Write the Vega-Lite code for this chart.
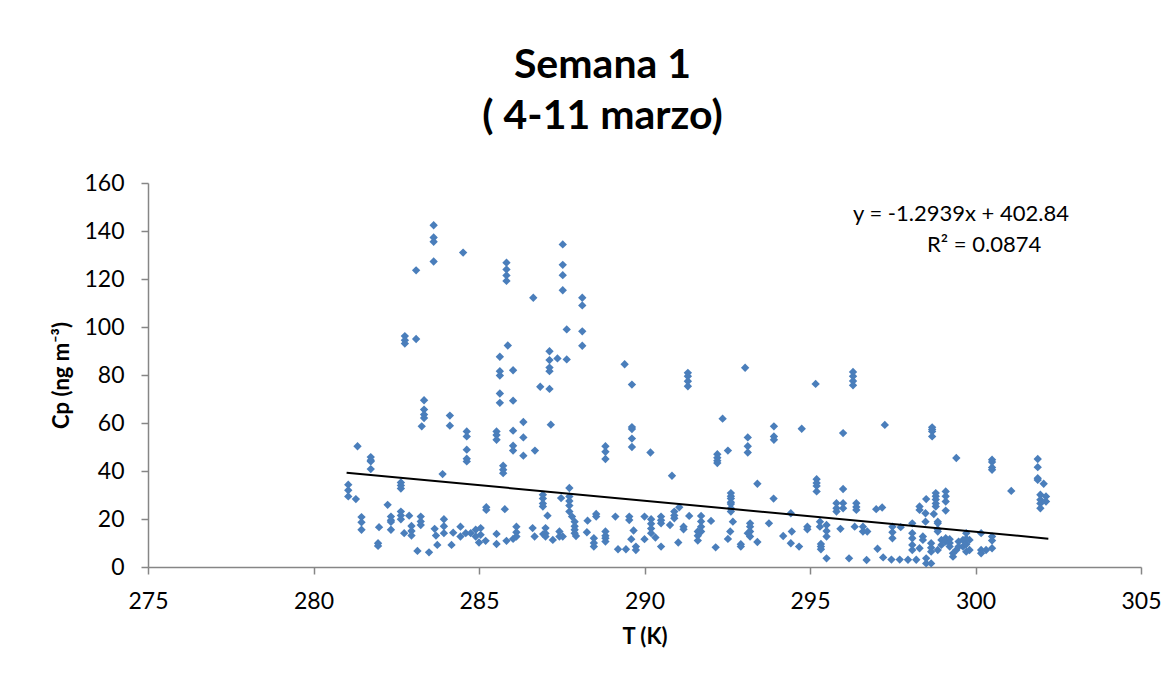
{
  "$schema": "https://vega.github.io/schema/vega-lite/v6.json",
  "width": 993,
  "height": 384,
  "autosize": {"type": "none"},
  "padding": {"left": 148, "top": 183, "right": 35, "bottom": 115},
  "background": "white",
  "config": {"view": {"stroke": null}, "font": "Lato"},
  "title": {
    "text": ["Semana 1", "( 4-11 marzo)"],
    "font": "Lato",
    "fontSize": 41,
    "fontWeight": "bold",
    "color": "black",
    "lineHeight": 51,
    "anchor": "middle",
    "frame": "group",
    "dx": -42,
    "offset": 34
  },
  "datasets": {
    "points": [
      {"T":283.63,"Cp":142.4},{"T":283.63,"Cp":137.3},{"T":283.63,"Cp":135.5},{"T":284.52,"Cp":131},{"T":283.63,"Cp":127.3},{"T":283.1,"Cp":123.6},{"T":282.76,"Cp":96.2},{"T":282.76,"Cp":94.5},{"T":282.76,"Cp":93.1},{"T":283.1,"Cp":95},{"T":285.63,"Cp":87.6},{"T":285.63,"Cp":81.6},{"T":285.63,"Cp":79.8},
      {"T":285.63,"Cp":72.3},{"T":285.63,"Cp":68.4},{"T":283.34,"Cp":69.5},{"T":283.34,"Cp":65.6},{"T":283.34,"Cp":63.5},{"T":283.34,"Cp":62.1},{"T":283.27,"Cp":58.6},{"T":284.12,"Cp":63.1},{"T":284.12,"Cp":58.9},{"T":284.63,"Cp":56.5},{"T":284.63,"Cp":54.4},{"T":284.63,"Cp":48.9},{"T":284.63,"Cp":45.1},{"T":284.63,"Cp":44},{"T":285.53,"Cp":56.5},{"T":285.53,"Cp":55},{"T":285.53,"Cp":53},{"T":281.33,"Cp":50.3},{"T":281.73,"Cp":45.8},{"T":281.73,"Cp":44.5},{"T":281.73,"Cp":44},{"T":281.73,"Cp":40.8},{"T":281.05,"Cp":34.3},{"T":281.05,"Cp":32},{"T":281.05,"Cp":29.4},{"T":281.28,"Cp":28.3},{"T":282.64,"Cp":35.2},{"T":282.64,"Cp":34},{"T":282.64,"Cp":32.7},{"T":283.9,"Cp":38.7},{"T":281.45,"Cp":20.8},{"T":281.45,"Cp":18.6},{"T":281.45,"Cp":15.5},{"T":281.98,"Cp":16.6},{"T":281.95,"Cp":9.9},{"T":281.95,"Cp":8.8},{"T":282.24,"Cp":25.9},{"T":282.34,"Cp":21},{"T":282.34,"Cp":19.5},{"T":282.34,"Cp":18.8},{"T":282.34,"Cp":15.5},{"T":282.64,"Cp":23.1},{"T":282.64,"Cp":21.5},{"T":282.64,"Cp":19.9},{"T":282.89,"Cp":21.4},{"T":282.74,"Cp":14.1},{"T":282.96,"Cp":17.1},{"T":282.96,"Cp":15},{"T":282.96,"Cp":13.1},{"T":283.24,"Cp":21},{"T":283.24,"Cp":19},{"T":283.24,"Cp":17.5},{"T":283.14,"Cp":6.7},{"T":283.49,"Cp":6.1},{"T":283.66,"Cp":15.9},{"T":283.7,"Cp":13.1},{"T":283.74,"Cp":9.2},{"T":283.94,"Cp":19.9},{"T":283.94,"Cp":17},{"T":283.94,"Cp":14.1},{"T":284.17,"Cp":9.2},{"T":284.22,"Cp":14.3},{"T":284.44,"Cp":16.8},{"T":284.44,"Cp":12.7},{"T":284.6,"Cp":14.1},{"T":284.75,"Cp":14.1},{"T":284.9,"Cp":15.5},{"T":284.9,"Cp":12.7},{"T":285.05,"Cp":16.2},{"T":285.05,"Cp":13.4},{"T":285,"Cp":10.2},{"T":285.22,"Cp":24.9},{"T":285.22,"Cp":23.8},{"T":285.2,"Cp":10.9},{"T":285.53,"Cp":13.8},{"T":285.53,"Cp":9.6},
      {"T":285.83,"Cp":126.8},{"T":285.83,"Cp":124},{"T":285.83,"Cp":121.5},{"T":285.83,"Cp":119.2},{"T":287.53,"Cp":134.4},{"T":287.53,"Cp":125.9},{"T":287.53,"Cp":121.6},{"T":287.53,"Cp":115.3},{"T":286.64,"Cp":112.2},{"T":288.12,"Cp":112.2},{"T":288.12,"Cp":109},{"T":287.65,"Cp":99},{"T":288.12,"Cp":98.2},{"T":288.12,"Cp":92.2},{"T":285.87,"Cp":92.3},{"T":286.03,"Cp":82},{"T":287.13,"Cp":89.9},{"T":287.13,"Cp":86.2},{"T":287.13,"Cp":83.1},{"T":287.13,"Cp":81.6},{"T":287.37,"Cp":86.9},{"T":287.65,"Cp":86.5},{"T":289.4,"Cp":84.5},
      {"T":286.85,"Cp":75.1},{"T":287.13,"Cp":74.2},{"T":286.03,"Cp":69.3},{"T":289.62,"Cp":76},{"T":286.34,"Cp":60.4},{"T":286.03,"Cp":56.8},{"T":286.34,"Cp":54},{"T":286.03,"Cp":50.5},{"T":286.03,"Cp":48.5},{"T":286.34,"Cp":46.4},{"T":286.69,"Cp":48.5},{"T":287.17,"Cp":59.3},{"T":285.73,"Cp":42.2},{"T":285.73,"Cp":40.5},{"T":285.73,"Cp":39.1},{"T":288.82,"Cp":50.3},{"T":288.82,"Cp":48},{"T":288.82,"Cp":45},{"T":289.62,"Cp":58.3},{"T":289.62,"Cp":57.5},{"T":289.62,"Cp":53.5},{"T":289.62,"Cp":50},{"T":290.18,"Cp":47.7},{"T":290.83,"Cp":38},{"T":287.73,"Cp":32.9},{"T":286.93,"Cp":30.1},{"T":286.93,"Cp":28.5},{"T":286.93,"Cp":26.5},{"T":286.93,"Cp":25.2},{"T":287.48,"Cp":28.7},{"T":287.73,"Cp":29.4},{"T":287.73,"Cp":27.5},{"T":287.73,"Cp":25.6},{"T":287.73,"Cp":23.1},{"T":287.81,"Cp":21},{"T":285.78,"Cp":24.1},{"T":287.07,"Cp":21.4},{"T":287.89,"Cp":18.9},{"T":287.89,"Cp":17},{"T":287.89,"Cp":15.5},{"T":287.89,"Cp":14.1},{"T":287.93,"Cp":12.9},{"T":288.54,"Cp":22.1},{"T":288.54,"Cp":21},{"T":288.28,"Cp":19.3},{"T":288.26,"Cp":14.5},{"T":288.47,"Cp":12},{"T":288.47,"Cp":10},{"T":288.47,"Cp":8.5},{"T":288.82,"Cp":14.8},{"T":288.82,"Cp":13},{"T":288.82,"Cp":12},{"T":288.82,"Cp":10.6},{"T":289.12,"Cp":21},{"T":289.2,"Cp":7.4},{"T":289.44,"Cp":7.4},{"T":289.54,"Cp":21},{"T":289.54,"Cp":19.6},{"T":289.67,"Cp":15.2},{"T":289.6,"Cp":11.6},{"T":289.74,"Cp":8.5},{"T":289.74,"Cp":7.1},{"T":290,"Cp":21},{"T":290.2,"Cp":19.9},{"T":290.2,"Cp":18},{"T":290.2,"Cp":16},{"T":290.2,"Cp":14.1},{"T":290,"Cp":11.6},{"T":290.33,"Cp":12.3},{"T":290.5,"Cp":21},{"T":290.5,"Cp":19.5},{"T":290.5,"Cp":18.2},{"T":290.5,"Cp":8.5},{"T":290.77,"Cp":17.5},{"T":290.9,"Cp":23.1},{"T":290.9,"Cp":21.5},{"T":290.9,"Cp":20.3},{"T":291.05,"Cp":24.9},{"T":291.02,"Cp":10.2},{"T":285.83,"Cp":10.9},{"T":286.03,"Cp":11.7},{"T":286.13,"Cp":16.8},{"T":286.13,"Cp":14.5},{"T":286.13,"Cp":12.7},{"T":286.62,"Cp":16.2},{"T":286.68,"Cp":12.7},{"T":286.94,"Cp":13.7},{"T":287.01,"Cp":16.2},{"T":287.01,"Cp":14},{"T":287.01,"Cp":12.7},{"T":287.23,"Cp":11.3},{"T":287.43,"Cp":14.8},{"T":287.43,"Cp":12.7},{"T":287.53,"Cp":12.7},
      {"T":291.31,"Cp":80.9},{"T":291.31,"Cp":79.5},{"T":291.31,"Cp":77.4},{"T":291.31,"Cp":75.3},{"T":293.04,"Cp":83},{"T":295.17,"Cp":76.3},{"T":296.3,"Cp":81.3},{"T":296.3,"Cp":79.5},{"T":296.3,"Cp":77.5},{"T":296.3,"Cp":75.7},{"T":292.36,"Cp":61.8},{"T":292.52,"Cp":48.5},{"T":292.2,"Cp":47},{"T":292.2,"Cp":45.5},{"T":292.2,"Cp":44.3},{"T":292.2,"Cp":43.3},{"T":293.12,"Cp":54},{"T":293.12,"Cp":50.3},{"T":293.12,"Cp":47.7},{"T":293.91,"Cp":58.6},{"T":293.91,"Cp":54.4},{"T":293.91,"Cp":53},{"T":294.75,"Cp":57.6},{"T":296,"Cp":55.8},{"T":293.41,"Cp":34.7},{"T":293.9,"Cp":28.5},{"T":295.2,"Cp":36.6},{"T":295.2,"Cp":35},{"T":295.2,"Cp":33.8},{"T":295.2,"Cp":31.5},{"T":296,"Cp":32.5},{"T":292.61,"Cp":30.8},{"T":292.61,"Cp":29.5},{"T":292.61,"Cp":28.5},{"T":292.61,"Cp":27},{"T":292.61,"Cp":26.2},{"T":292.61,"Cp":24.5},{"T":292.61,"Cp":23.1},{"T":291.35,"Cp":21.3},{"T":291.18,"Cp":16.8},{"T":291.18,"Cp":15.7},{"T":291.71,"Cp":21.3},{"T":291.71,"Cp":19},{"T":291.71,"Cp":16.8},{"T":291.71,"Cp":14.8},{"T":291.61,"Cp":14.8},{"T":291.61,"Cp":13},{"T":291.61,"Cp":11},{"T":292.01,"Cp":19.2},{"T":292.15,"Cp":8.2},{"T":292.67,"Cp":18.9},{"T":292.59,"Cp":14.8},{"T":292.52,"Cp":11.7},{"T":292.91,"Cp":9.5},{"T":292.91,"Cp":8.5},{"T":293.19,"Cp":18.2},{"T":293.19,"Cp":16.8},{"T":293.19,"Cp":14.8},{"T":293.19,"Cp":12.7},{"T":293.12,"Cp":14.1},{"T":293.41,"Cp":10.4},{"T":293.76,"Cp":18.2},{"T":294.19,"Cp":12.9},{"T":294.42,"Cp":22.4},{"T":294.45,"Cp":14.8},{"T":294.42,"Cp":9.9},{"T":294.67,"Cp":8.5},{"T":294.92,"Cp":16.8},{"T":294.92,"Cp":15.7},{"T":295.3,"Cp":18.9},{"T":295.3,"Cp":16.8},{"T":295.5,"Cp":17.5},{"T":295.5,"Cp":15},{"T":295.5,"Cp":12.7},{"T":295.33,"Cp":9.6},{"T":295.33,"Cp":8.5},{"T":295.33,"Cp":7.4},{"T":295.5,"Cp":3.6},{"T":295.8,"Cp":26.6},{"T":295.8,"Cp":24.5},{"T":295.8,"Cp":23.1},{"T":296,"Cp":26.6},{"T":296,"Cp":24.5},{"T":295.92,"Cp":15.9},{"T":296.18,"Cp":3.6},{"T":296.4,"Cp":26.6},{"T":296.4,"Cp":25},{"T":296.4,"Cp":23.8},{"T":296.35,"Cp":16.8},
      {"T":297.26,"Cp":59.2},{"T":298.69,"Cp":58.2},{"T":298.69,"Cp":57.3},{"T":298.69,"Cp":56.5},{"T":298.69,"Cp":54.4},{"T":299.42,"Cp":45.4},{"T":300.5,"Cp":44.7},{"T":300.5,"Cp":43.7},{"T":300.5,"Cp":41.5},{"T":300.5,"Cp":40.5},{"T":301.88,"Cp":45},{"T":301.88,"Cp":41.6},{"T":301.88,"Cp":37},{"T":301.88,"Cp":36.3},{"T":302.06,"Cp":34.7},{"T":301.08,"Cp":31.7},{"T":301.96,"Cp":30.1},{"T":301.96,"Cp":28},{"T":301.96,"Cp":26.5},{"T":301.96,"Cp":24.5},{"T":302.13,"Cp":29.4},{"T":302.13,"Cp":27.3},{"T":297,"Cp":24.1},{"T":297.18,"Cp":24.8},{"T":296.6,"Cp":16.8},{"T":296.6,"Cp":14.8},{"T":296.73,"Cp":14.8},{"T":296.71,"Cp":2.9},{"T":297.04,"Cp":7.6},{"T":297.21,"Cp":4},{"T":297.49,"Cp":16.8},{"T":297.49,"Cp":14.5},{"T":297.49,"Cp":12},{"T":297.74,"Cp":16.6},{"T":297.46,"Cp":3.1},{"T":297.71,"Cp":3.1},{"T":297.96,"Cp":3},{"T":298.21,"Cp":3},{"T":298.09,"Cp":18.2},{"T":298.09,"Cp":14.1},{"T":298.09,"Cp":12},{"T":298.09,"Cp":9.2},{"T":298.09,"Cp":7.1},{"T":298.31,"Cp":25.2},{"T":298.31,"Cp":23.8},{"T":298.51,"Cp":28.3},{"T":298.49,"Cp":22.4},{"T":298.49,"Cp":18.9},{"T":298.41,"Cp":12.7},{"T":298.41,"Cp":11.3},{"T":298.31,"Cp":7.8},{"T":298.51,"Cp":3.6},{"T":298.51,"Cp":1.5},{"T":298.66,"Cp":1.5},{"T":298.8,"Cp":30.8},{"T":298.8,"Cp":29.5},{"T":298.8,"Cp":28.1},{"T":298.8,"Cp":26.5},{"T":298.8,"Cp":25.2},{"T":298.74,"Cp":22.1},{"T":298.86,"Cp":18.9},{"T":298.86,"Cp":18.2},{"T":298.86,"Cp":15.7},{"T":298.86,"Cp":14.8},{"T":298.66,"Cp":9.9},{"T":298.66,"Cp":8},{"T":298.66,"Cp":6.4},{"T":298.86,"Cp":7.1},{"T":298.97,"Cp":11.3},{"T":298.97,"Cp":9.2},{"T":299.1,"Cp":31.5},{"T":299.1,"Cp":29.5},{"T":299.1,"Cp":27.3},{"T":299.1,"Cp":23.5},{"T":299.1,"Cp":12},{"T":299.1,"Cp":10.6},{"T":299.22,"Cp":11.6},{"T":299.22,"Cp":10},{"T":299.22,"Cp":8.5},{"T":299.32,"Cp":5.7},{"T":299.32,"Cp":4.3},{"T":299.42,"Cp":7.1},{"T":299.49,"Cp":10.6},{"T":299.49,"Cp":8.5},{"T":299.62,"Cp":11.3},{"T":299.62,"Cp":8.5},{"T":299.72,"Cp":14.1},{"T":299.72,"Cp":11.8},{"T":299.72,"Cp":9.5},{"T":299.72,"Cp":6.4},{"T":299.82,"Cp":11.3},{"T":299.82,"Cp":7.1},{"T":300.17,"Cp":14.1},{"T":300.17,"Cp":7.1},{"T":300.17,"Cp":5.7},{"T":300.32,"Cp":7.1},{"T":300.5,"Cp":12.7},{"T":300.5,"Cp":11},{"T":300.5,"Cp":7.8}
    ],
    "fit": [{"T": 281.0, "Cp": 39.26}, {"T": 302.2, "Cp": 11.82}],
    "labels": [
      {"T": 299.56, "Cp": 147.2, "label": "y = -1.2939x + 402.84"},
      {"T": 300.26, "Cp": 134.3, "label": "R² = 0.0874"}
    ]
  },
  "encoding": {
    "x": {
      "field": "T",
      "type": "quantitative",
      "scale": {"domain": [275, 305], "nice": false, "zero": false},
      "axis": {
        "values": [275, 280, 285, 290, 295, 300, 305],
        "grid": false,
        "title": "T (K)",
        "titleFont": "Lato",
        "titleFontSize": 22,
        "titleFontWeight": "bold",
        "titleColor": "black",
        "titlePadding": 13,
        "labelFont": "Lato",
        "labelFontSize": 23,
        "labelColor": "black",
        "labelPadding": 16,
        "labelFlush": false,
        "domainColor": "#868686",
        "domainWidth": 1.5,
        "tickColor": "#868686",
        "tickWidth": 1.5,
        "tickSize": 7
      }
    },
    "y": {
      "field": "Cp",
      "type": "quantitative",
      "scale": {"domain": [0, 160], "nice": false},
      "axis": {
        "values": [0, 20, 40, 60, 80, 100, 120, 140, 160],
        "grid": false,
        "title": "Cp (ng m⁻³)",
        "titleFont": "Lato",
        "titleFontSize": 22,
        "titleFontWeight": "bold",
        "titleColor": "black",
        "titlePadding": 10,
        "labelFont": "Lato",
        "labelFontSize": 23,
        "labelColor": "black",
        "labelPadding": 17,
        "labelFlush": false,
        "domainColor": "#868686",
        "domainWidth": 1.5,
        "tickColor": "#868686",
        "tickWidth": 1.5,
        "tickSize": 7
      }
    }
  },
  "layer": [
    {
      "data": {"name": "points"},
      "mark": {"type": "point", "shape": "diamond", "filled": true, "size": 70, "color": "#4a7ebb", "opacity": 1}
    },
    {
      "data": {"name": "fit"},
      "mark": {"type": "line", "color": "black", "strokeWidth": 2}
    },
    {
      "data": {"name": "labels"},
      "mark": {"type": "text", "font": "Lato", "fontSize": 22, "color": "black", "align": "center", "baseline": "middle"},
      "encoding": {"text": {"field": "label"}}
    }
  ]
}
